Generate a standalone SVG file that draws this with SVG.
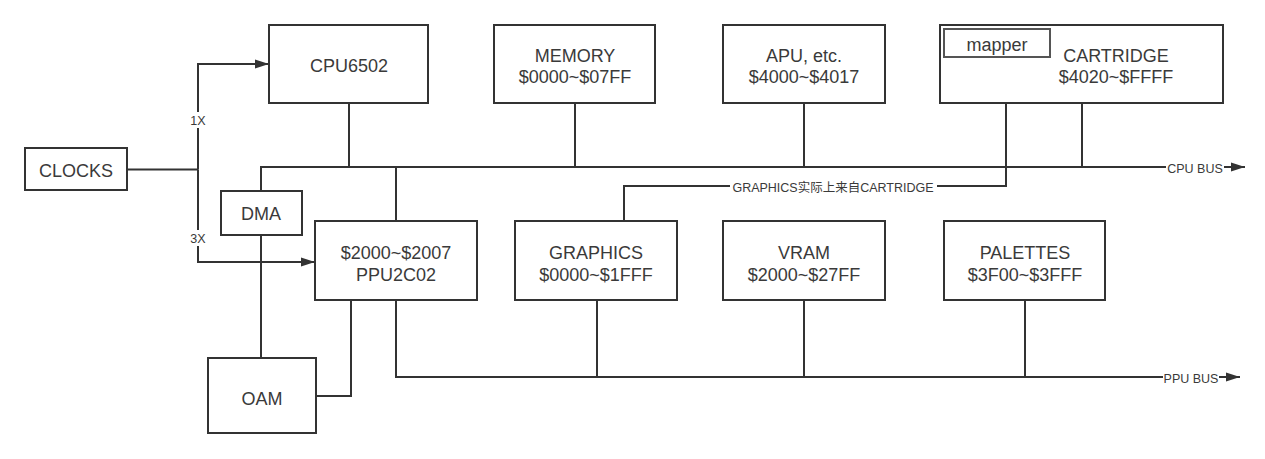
<svg xmlns="http://www.w3.org/2000/svg" width="1265" height="459" viewBox="0 0 1265 459">
<style>
.box{fill:#fff;stroke:#333;stroke-width:2}
.sub{fill:#fff;stroke:#555;stroke-width:2}
.t{font-family:"Liberation Sans","Noto Sans CJK SC",sans-serif;font-size:18px;fill:#3a3a3a;text-anchor:middle}
.s{font-family:"Liberation Sans","Noto Sans CJK SC",sans-serif;font-size:12.5px;fill:#3a3a3a;text-anchor:middle}
.c{fill:none;stroke:#333;stroke-width:2}
.bg{fill:#fff}
</style>
<defs>
<marker id="ah" markerUnits="userSpaceOnUse" markerWidth="14" markerHeight="10" refX="14" refY="5" orient="auto">
<path d="M0,0.5 L14,5 L0,9.5 Z" fill="#333"/>
</marker>
</defs>
<rect width="1265" height="459" fill="#fff"/>
<g id="connectors">
<path class="c" d="M127,169.5 H198"/>
<path class="c" d="M198,169.5 V64 H269" marker-end="url(#ah)"/>
<path class="c" d="M198,169.5 V262 H315" marker-end="url(#ah)"/>
<path class="c" d="M349,103 V167 H1245" marker-end="url(#ah)"/>
<path class="c" d="M261,191 V167 H349"/>
<path class="c" d="M575,103 V167"/>
<path class="c" d="M804,103 V167"/>
<path class="c" d="M1082,103 V167"/>
<path class="c" d="M1006,103 V186 H624 V221"/>
<path class="c" d="M396,167 V221"/>
<path class="c" d="M261,235 V358"/>
<path class="c" d="M351,300 V396 H316"/>
<path class="c" d="M396,300 V377 H1240" marker-end="url(#ah)"/>
<path class="c" d="M597,300 V377"/>
<path class="c" d="M804,300 V377"/>
<path class="c" d="M1025,300 V377"/>
<rect class="bg" x="189" y="112" width="18" height="16"/>
<text class="s" x="198" y="125">1X</text>
<rect class="bg" x="189" y="230" width="18" height="16"/>
<text class="s" x="198" y="243">3X</text>
<rect class="bg" x="1166" y="160" width="58" height="15"/>
<text class="s" x="1195" y="172.5">CPU BUS</text>
<rect class="bg" x="1163" y="370" width="56" height="15"/>
<text class="s" x="1191" y="382.5">PPU BUS</text>
<rect class="bg" x="730" y="178" width="207" height="16"/>
<text class="s" x="833" y="191.5">GRAPHICS实际上来自CARTRIDGE</text>
</g>
<g id="clocks"><rect class="box" x="25" y="148" width="102" height="42"/><text class="t" x="76" y="177">CLOCKS</text></g>
<g id="cpu"><rect class="box" x="269" y="25" width="159" height="78"/><text class="t" x="349" y="72">CPU6502</text></g>
<g id="memory"><rect class="box" x="494" y="25" width="161" height="78"/><text class="t" x="575" y="62">MEMORY</text><text class="t" x="575" y="83">$0000~$07FF</text></g>
<g id="apu"><rect class="box" x="723" y="25" width="162" height="78"/><text class="t" x="804" y="62">APU, etc.</text><text class="t" x="804" y="83">$4000~$4017</text></g>
<g id="cartridge"><rect class="box" x="940" y="25" width="283" height="78"/><text class="t" x="1116" y="62">CARTRIDGE</text><text class="t" x="1116" y="83">$4020~$FFFF</text>
<g id="mapper"><rect class="sub" x="944" y="29" width="106" height="28"/><text class="t" x="997" y="51">mapper</text></g></g>
<g id="dma"><rect class="box" x="221" y="191" width="81" height="44"/><text class="t" x="261" y="220">DMA</text></g>
<g id="ppu"><rect class="box" x="315" y="221" width="162" height="79"/><text class="t" x="396" y="259">$2000~$2007</text><text class="t" x="396" y="281">PPU2C02</text></g>
<g id="graphics"><rect class="box" x="515" y="221" width="162" height="79"/><text class="t" x="596" y="259">GRAPHICS</text><text class="t" x="596" y="281">$0000~$1FFF</text></g>
<g id="vram"><rect class="box" x="723" y="221" width="162" height="79"/><text class="t" x="804" y="259">VRAM</text><text class="t" x="804" y="281">$2000~$27FF</text></g>
<g id="palettes"><rect class="box" x="944" y="221" width="161" height="79"/><text class="t" x="1025" y="259">PALETTES</text><text class="t" x="1025" y="281">$3F00~$3FFF</text></g>
<g id="oam"><rect class="box" x="208" y="358" width="108" height="75"/><text class="t" x="262" y="405">OAM</text></g>
</svg>
